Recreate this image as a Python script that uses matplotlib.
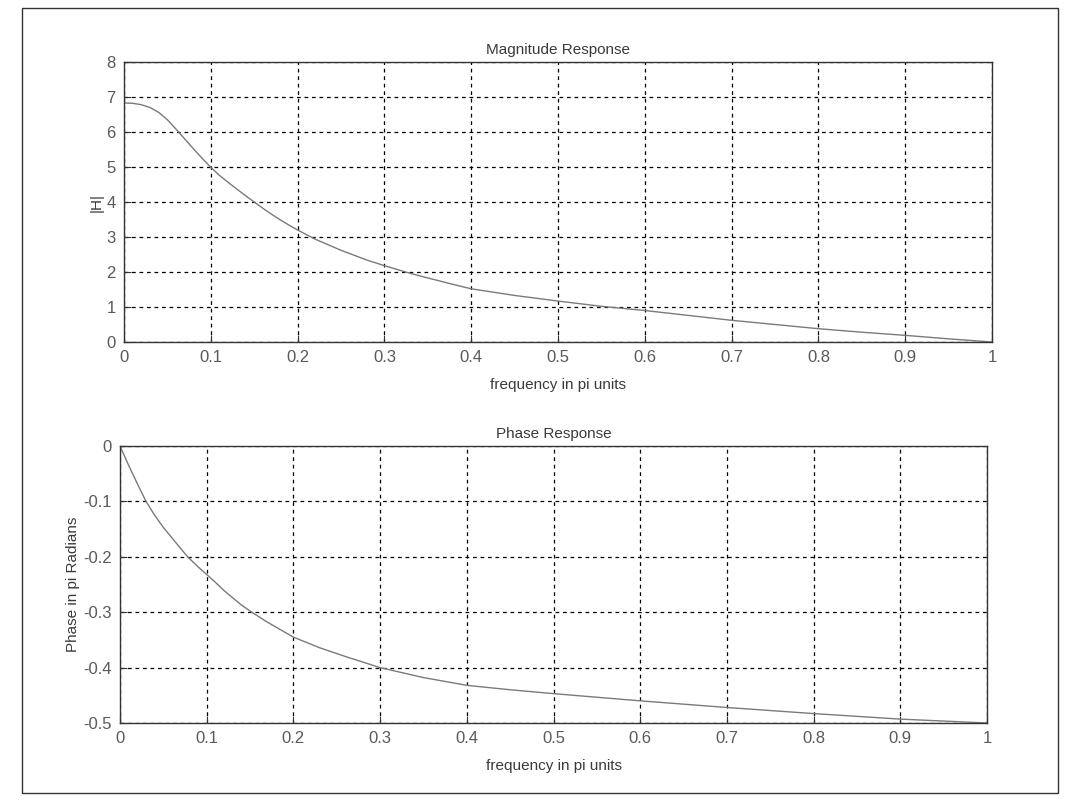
import matplotlib
matplotlib.use("Agg")
import matplotlib.pyplot as plt
from matplotlib.patches import Rectangle

plt.rcParams['font.family'] = ['Liberation Sans', 'DejaVu Sans']

# Magnitude response
mag_w = [0.0, 0.01, 0.02, 0.03, 0.04, 0.05, 0.06, 0.07, 0.08, 0.09, 0.1, 0.11, 0.12, 0.13,
         0.14, 0.15, 0.16, 0.17, 0.18, 0.19, 0.2, 0.22, 0.25, 0.28, 0.3, 0.33, 0.35, 0.38,
         0.4, 0.45, 0.5, 0.55, 0.6, 0.65, 0.7, 0.75, 0.8, 0.85, 0.9, 0.95, 1.0]
mag_h = [6.83, 6.82, 6.78, 6.7, 6.56, 6.35, 6.08, 5.8, 5.52, 5.25, 4.99, 4.76, 4.56, 4.37,
         4.18, 4.0, 3.82, 3.65, 3.49, 3.34, 3.2, 2.94, 2.62, 2.34, 2.18, 1.96, 1.83, 1.64,
         1.52, 1.33, 1.17, 1.02, 0.9, 0.76, 0.62, 0.5, 0.38, 0.28, 0.19, 0.09, 0.0]

# Phase response (in pi radians)
ph_w = [0.0, 0.01, 0.02, 0.03, 0.04, 0.05, 0.06, 0.07, 0.078, 0.09, 0.1, 0.11, 0.12, 0.13,
        0.14, 0.152, 0.17, 0.2, 0.23, 0.26, 0.3, 0.35, 0.4, 0.45, 0.5, 0.6, 0.7, 0.8, 0.9, 1.0]
ph_v = [0.0, -0.035, -0.068, -0.1, -0.125, -0.147, -0.166, -0.185, -0.2, -0.218, -0.232,
        -0.246, -0.261, -0.274, -0.287, -0.3, -0.318, -0.345, -0.364, -0.38, -0.4, -0.418,
        -0.432, -0.44, -0.447, -0.46, -0.472, -0.483, -0.493, -0.5]

x_ticks = [0, 0.1, 0.2, 0.3, 0.4, 0.5, 0.6, 0.7, 0.8, 0.9, 1]
mag_ticks = [0, 1, 2, 3, 4, 5, 6, 7, 8]
ph_ticks = [0, -0.1, -0.2, -0.3, -0.4, -0.5]

W, H = 1067, 801
fig = plt.figure(figsize=(W / 100, H / 100), dpi=100)

txt = '#3a3a3a'

def style(ax):
    for s in ax.spines.values():
        s.set_color('#333333')
        s.set_linewidth(1.0)
    ax.tick_params(direction='in', length=5, color='#333333', labelcolor='#5a5a5a',
                   labelsize=12, pad=6)
    ax.grid(True, color='black', linestyle=(0, (3, 3)), linewidth=0.9)
    ax.set_axisbelow(True)

def fmt(v):
    return '%g' % v

ax1 = fig.add_axes([124 / W, 1 - 342 / H, (992 - 124) / W, (342 - 62) / H])
ax1.plot(mag_w, mag_h, color='#7a7a7a', linewidth=1.0)
ax1.set_xlim(0, 1)
ax1.set_ylim(0, 8)
ax1.set_xticks(x_ticks)
ax1.set_xticklabels([fmt(v) for v in x_ticks])
ax1.set_yticks(mag_ticks)
ax1.set_yticklabels([fmt(v) for v in mag_ticks])
style(ax1)
ax1.set_title('Magnitude Response', fontsize=11, color=txt, pad=6)
ax1.set_xlabel('frequency in pi units', fontsize=11, color=txt, labelpad=9)
ax1.set_ylabel('|H|', fontsize=11, color=txt, labelpad=2)

ax2 = fig.add_axes([120 / W, 1 - 723 / H, (987 - 120) / W, (723 - 446) / H])
ax2.plot(ph_w, ph_v, color='#7a7a7a', linewidth=1.0)
ax2.set_xlim(0, 1)
ax2.set_ylim(-0.5, 0)
ax2.set_xticks(x_ticks)
ax2.set_xticklabels([fmt(v) for v in x_ticks])
ax2.set_yticks(ph_ticks)
ax2.set_yticklabels([fmt(v) for v in ph_ticks])
style(ax2)
ax2.set_title('Phase Response', fontsize=11, color=txt, pad=6)
ax2.set_xlabel('frequency in pi units', fontsize=11, color=txt, labelpad=9)
ax2.set_ylabel('Phase in pi Radians', fontsize=11, color=txt, labelpad=2)

# outer frame of the scanned figure
fig.patches.append(Rectangle((22 / W, 1 - 793 / H), (1058 - 22) / W, (793 - 8) / H,
                             transform=fig.transFigure, fill=False,
                             edgecolor='#333333', linewidth=1.0))

fig.savefig('out.png', dpi=100)
